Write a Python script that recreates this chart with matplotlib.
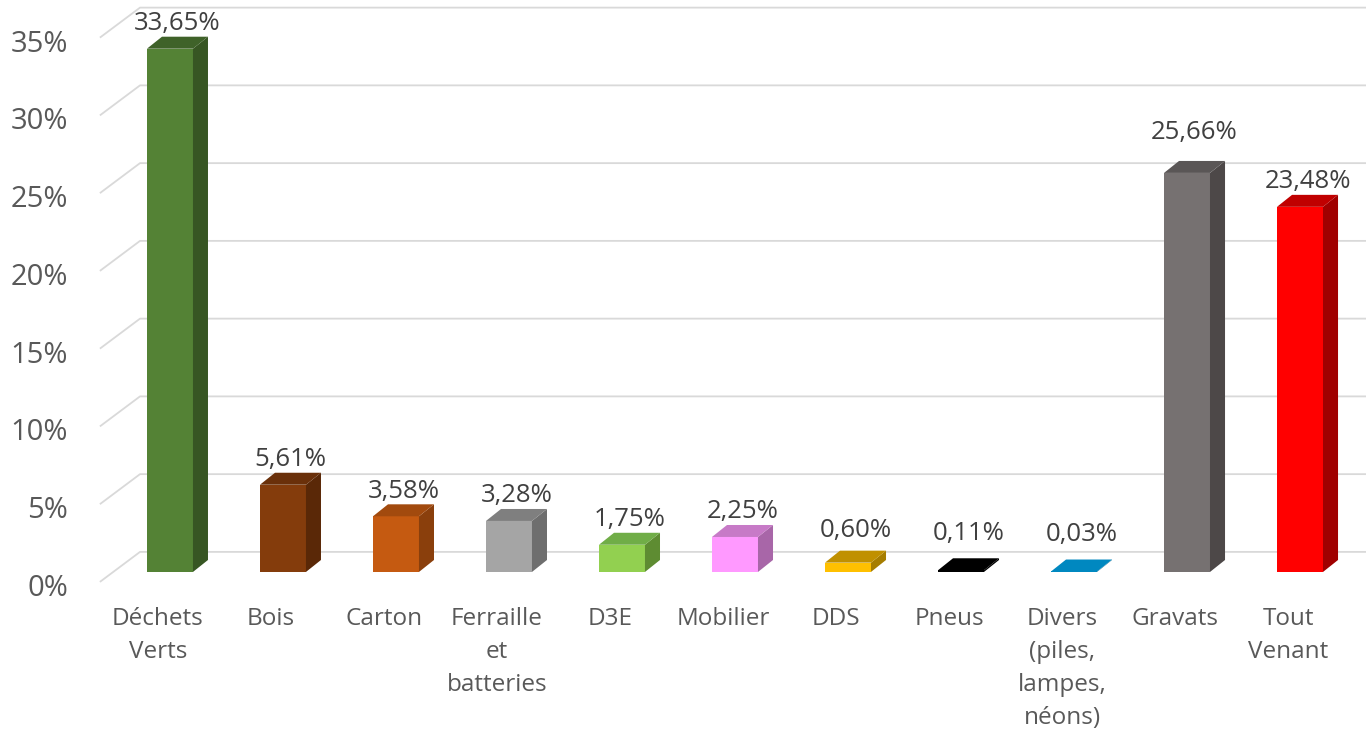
import matplotlib.pyplot as plt
from matplotlib.patches import Polygon

categories = ["Déchets\nVerts", "Bois", "Carton", "Ferraille\net\nbatteries", "D3E",
              "Mobilier", "DDS", "Pneus", "Divers\n(piles,\nlampes,\nnéons)",
              "Gravats", "Tout\nVenant"]
values = [33.65, 5.61, 3.58, 3.28, 1.75, 2.25, 0.60, 0.11, 0.03, 25.66, 23.48]
value_labels = ["33,65%", "5,61%", "3,58%", "3,28%", "1,75%", "2,25%",
                "0,60%", "0,11%", "0,03%", "25,66%", "23,48%"]
yticks = [0, 5, 10, 15, 20, 25, 30, 35]
ytick_labels = ["0%", "5%", "10%", "15%", "20%", "25%", "30%", "35%"]

# front, side, top
colors = [
    ("#548235", "#375623", "#3f6229"),
    ("#843c0c", "#5a2807", "#6a300a"),
    ("#c55a11", "#8a3f0c", "#a24a0e"),
    ("#a5a5a5", "#6e6e6e", "#7f7f7f"),
    ("#92d050", "#5e8c32", "#70ad47"),
    ("#ff99ff", "#a866a8", "#c77ac7"),
    ("#ffc000", "#a67d00", "#c09000"),
    ("#000000", "#000000", "#000000"),
    ("#0088c0", "#005f86", "#0088c0"),
    ("#767171", "#4d4848", "#5a5656"),
    ("#ff0000", "#a00000", "#c00000"),
]
# extra lift of some value labels (as placed in the original)
label_lift = [0, 0, 0, 0, 0, 0, 0.45, 0.77, 0.77, 1.0, 0]

plt.rcParams['font.family'] = ['Open Sans', 'DejaVu Sans']

fig = plt.figure(figsize=(13.66, 7.34), dpi=100)
ax = fig.add_axes([0, 0, 1, 1])
ax.set_xlim(-1.504, 10.584)
ax.set_ylim(-10.42, 36.78)
ax.axis("off")

w = 0.407      # bar width
dx = 0.133     # depth offset x
dy = 0.77      # depth offset y

# floor / wall gridlines in pseudo 3d
for t, lab in zip(yticks, ytick_labels):
    ax.plot([-0.62, -0.265, 10.6], [t - 0.64, t + 1.29, t + 1.29],
            color="#d9d9d9", lw=1.3, zorder=1, solid_capstyle="butt")
    ax.text(-0.9, t - 1.05, lab, ha="right", va="center", fontsize=21, color="#595959")

xs = list(range(len(values)))
fronts = [c[0] for c in colors]
ax.bar(xs, values, width=w, color=fronts, zorder=3)

for i, v in enumerate(values):
    front, side, top = colors[i]
    r = i + w / 2
    l = i - w / 2
    ax.add_patch(Polygon([(r, 0), (r + dx, dy), (r + dx, v + dy), (r, v)],
                         closed=True, facecolor=side, edgecolor="none", zorder=3))
    ax.add_patch(Polygon([(l, v), (r, v), (r + dx, v + dy), (l + dx, v + dy)],
                         closed=True, facecolor=top, edgecolor="none", zorder=3))
    ax.text(i + dx / 2, v + dy + 0.05 + label_lift[i], value_labels[i], ha="center",
            va="bottom", fontsize=18.5, color="#404040", zorder=4)
    ax.text(i - 0.106, -2.25, categories[i], ha="center", va="top",
            fontsize=17.5, color="#595959", linespacing=1.51)

fig.savefig("out.png", dpi=100)
